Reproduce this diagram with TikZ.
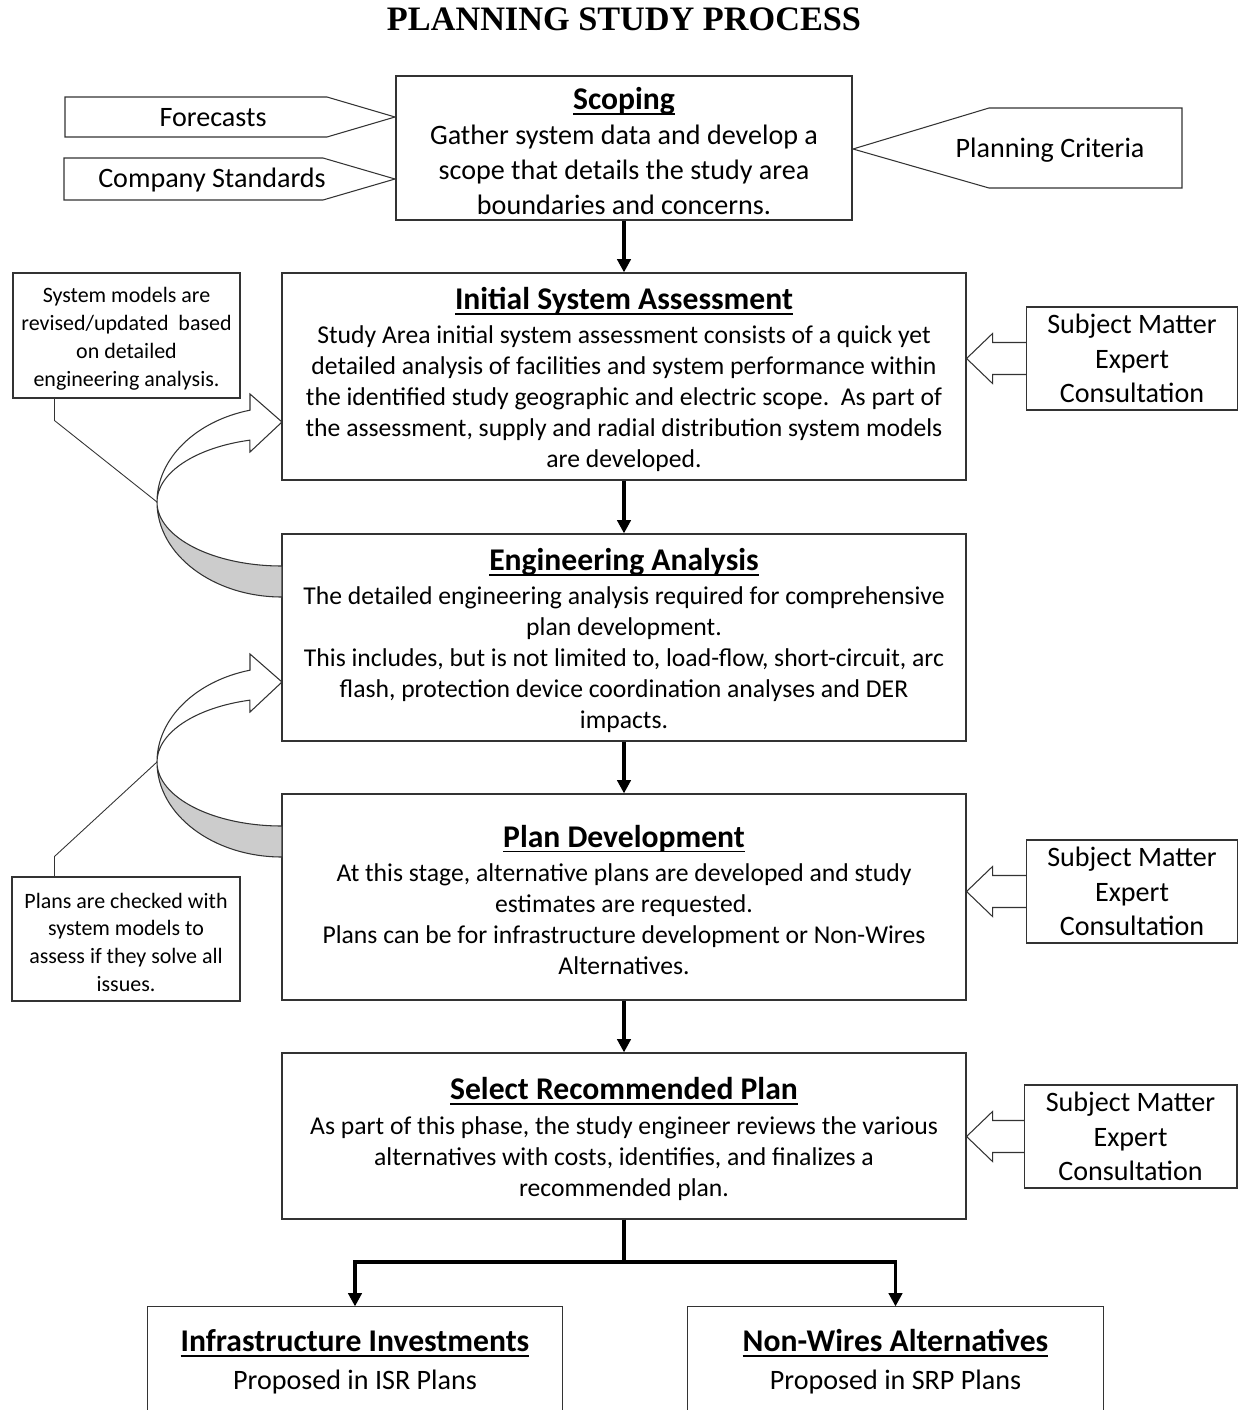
\documentclass[tikz,border=0pt]{standalone}
\usepackage{fontspec}
\setmainfont{Carlito}
\newfontfamily\titlefont{Liberation Serif}
\usetikzlibrary{arrows.meta, positioning, backgrounds}

\newcommand\bodyfont{\fontsize{14.6}{17.6}\selectfont}
\newcommand\headfont{\fontsize{18}{21.6}\selectfont\bfseries}
\newcommand\sidefont{\fontsize{16}{19.8}\selectfont}
\newcommand\remarkfont{\fontsize{12.5}{15.8}\selectfont}
\newcommand\toppad[1][16pt]{\rule{0pt}{#1}}
\newcommand\stagehead[1]{{\headfont\setbox0\hbox{#1}\toppad\rlap{\rule[-2.9pt]{\wd0}{1.1pt}}\box0}}

\tikzset{
  stage/.style={draw=black!80, line width=0.7pt, fill=white, align=center, inner sep=2pt, font=\bodyfont},
  remark/.style={draw=black!80, line width=0.6pt, fill=white, align=center, inner sep=2pt, font=\remarkfont},
  expert/.style={draw=black!80, line width=0.6pt, fill=white, align=center, inner sep=2pt, font=\sidefont, minimum width=4.22cm, minimum height=2.06cm},
  flow/.style={line width=2.2pt, -{Triangle[length=7.5pt,width=7.5pt]}},
  shapeline/.style={draw=black!80, line width=0.6pt},
  leader/.style={black!80, line width=0.5pt},
}

\begin{document}
\begin{tikzpicture}[x=0.02cm, y=0.02cm]
\tikzset{
  twist/.pic={
    \coordinate (-twist) at (-125,0);
    \filldraw[shapeline, fill=black!20] (-125,0) arc[start angle=180, end angle=270, x radius=125, y radius=95]
      -- (0,-64) arc[start angle=270, end angle=180, x radius=125, y radius=64] -- cycle;
    \filldraw[shapeline, fill=white] (-32,91.84) arc[start angle=104.83, end angle=180, x radius=125, y radius=95]
      arc[start angle=180, end angle=104.9, x radius=125, y radius=64]
      -- (-32,50) -- (0,80) -- (-32,108) -- cycle;
  },
  pointer/.pic={\draw[shapeline, fill=white] (64,16) -- (26,16) -- (26,25) -- (0,0) -- (26,-25) -- (26,-16) -- (64,-16);}
}

\useasboundingbox (0,0) rectangle (1238,-1410);

\node[font=\titlefont\bfseries\fontsize{19.5}{23}\selectfont] (title) at (624,-19) {PLANNING STUDY PROCESS};

% main stages
\node[stage, font=\sidefont, minimum width=9.12cm, minimum height=2.88cm] (scoping) at (624,-148)
  {\stagehead{Scoping}\\Gather system data and develop a\\scope that details the study area\\boundaries and concerns.};
\node[stage, minimum width=13.68cm, minimum height=4.14cm] (isa) at (624,-376.5)
  {\stagehead{Initial System Assessment}\\[2pt]Study Area initial system assessment consists of a quick yet\\detailed analysis of facilities and system performance within\\the identified study geographic and electric scope.\ \ As part of\\the assessment, supply and radial distribution system models\\are developed.};
\node[stage, minimum width=13.68cm, minimum height=4.14cm] (ea) at (624,-637.5)
  {\stagehead{Engineering Analysis}\\[2pt]The detailed engineering analysis required for comprehensive\\plan development.\\This includes, but is not limited to, load-flow, short-circuit, arc\\flash, protection device coordination analyses and DER\\impacts.};
\node[stage, minimum width=13.68cm, minimum height=4.12cm] (pd) at (624,-897)
  {\stagehead{Plan Development}\\[2pt]At this stage, alternative plans are developed and study\\estimates are requested.\\Plans can be for infrastructure development or Non-Wires\\Alternatives.};
\node[stage, minimum width=13.68cm, minimum height=3.32cm] (srp) at (624,-1136)
  {\stagehead{Select Recommended Plan}\\[2pt]As part of this phase, the study engineer reviews the various\\alternatives with costs, identifies, and finalizes a\\recommended plan.};

% outcomes
\node[stage, draw=none, font=\sidefont, minimum width=8.28cm, minimum height=2.06cm] (ii) at (355,-1358.5)
  {\stagehead{Infrastructure Investments}\\[1.5pt]Proposed in ISR Plans};
\node[stage, draw=none, font=\sidefont, minimum width=8.3cm, minimum height=2.06cm] (nwa) at (895.5,-1358.5)
  {\stagehead{Non-Wires Alternatives}\\[1.5pt]Proposed in SRP Plans};
\draw[shapeline] (ii.south west) -- (ii.north west) -- (ii.north east) -- (ii.south east);
\draw[shapeline] (nwa.south west) -- (nwa.north west) -- (nwa.north east) -- (nwa.south east);

% inputs to scoping
\draw[shapeline] (65,-97) -- (327,-97) -- (395,-117) -- (327,-137) -- (65,-137) -- cycle;
\draw[shapeline] (64,-158) -- (323,-158) -- (395,-179) -- (323,-200) -- (64,-200) -- cycle;
\draw[shapeline] (853,-149) -- (989,-108) -- (1182,-108) -- (1182,-188) -- (989,-188) -- cycle;
\node[font=\sidefont] (fc) at (213,-118) {Forecasts};
\node[font=\sidefont] (cs) at (212,-180) {Company Standards};
\node[font=\sidefont] (pc) at (1050,-150) {Planning Criteria};

% feedback loops
\pic (loopA) at (282,-502) {twist};
\pic (loopB) at (282,-762) {twist};

\node[remark, minimum width=4.54cm, minimum height=2.5cm] (remA) at (126.5,-335.5)
  {\toppad[12.3pt]System models are\\revised/updated\ \ based\\on detailed\\engineering analysis.};
\node[remark, minimum width=4.56cm, minimum height=2.48cm] (remB) at (126,-939)
  {\toppad[12.3pt]Plans are checked with\\system models to\\assess if they solve all\\issues.};
\draw[leader] ([xshift=0.84cm]remA.south west) -- ++(0,-22) -- (loopA-twist);
\draw[leader] ([xshift=0.86cm]remB.north west) -- ++(0,20) -- (loopB-twist);

% experts
\node[expert] (smeA) at (1132,-358.5) {Subject Matter\\Expert\\Consultation};
\node[expert] (smeB) at (1132,-891.5) {Subject Matter\\Expert\\Consultation};
\node[expert, minimum width=4.26cm] (smeC) at (1130.5,-1136.5) {Subject Matter\\Expert\\Consultation};
\begin{scope}[on background layer]
\pic at (isa.east |- smeA.west) {pointer};
\pic at (pd.east |- smeB.west) {pointer};
\pic at (srp.east |- smeC.west) {pointer};
\end{scope}

% flow
\draw[flow] (scoping) -- (isa);
\draw[flow] (isa) -- (ea);
\draw[flow] (ea) -- (pd);
\draw[flow] (pd) -- (srp);
\coordinate (split) at (624,-1262);
\draw[flow] (srp.south) -- (split) -| (ii);
\draw[flow] (srp.south) -- (split) -| (nwa);
\end{tikzpicture}
\end{document}
